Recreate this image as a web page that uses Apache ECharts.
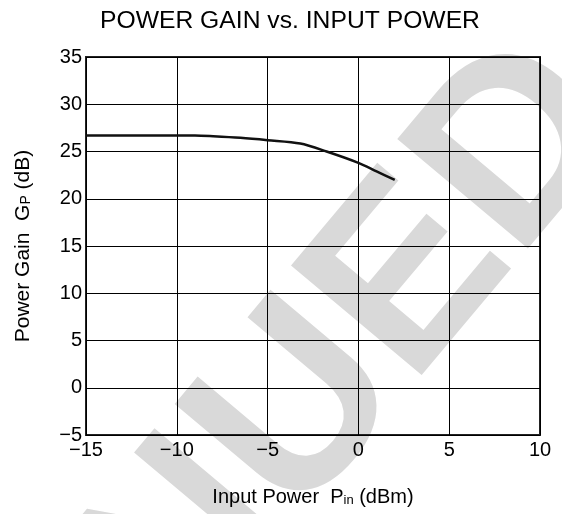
<!DOCTYPE html>
<html>
<head>
<meta charset="utf-8">
<script src="https://cdn.jsdelivr.net/npm/echarts@6/dist/echarts.min.js"></script>
<style>html,body{margin:0;padding:0;background:#fff}#c{width:562px;height:514px}</style>
</head>
<body>
<div id="c"></div>
<script>
const inputPower = [-15, -12, -9, -8, -6.5, -5, -3.2, -1.75, 0, 1, 2];
const powerGain = [26.7, 26.7, 26.7, 26.62, 26.45, 26.2, 25.85, 25.0, 23.8, 22.9, 22.0];
const xTicks = [-15, -10, -5, 0, 5, 10];
const yTicks = [-5, 0, 5, 10, 15, 20, 25, 30, 35];
const titleText = 'POWER GAIN vs. INPUT POWER';
const watermark = 'DISCONTINUED';

const FONT = '"Liberation Sans", Arial, Helvetica, sans-serif';
const fmt = v => String(v).replace('-', '\u2212');
const chart = echarts.init(document.getElementById('c'), null, {renderer: 'canvas'});
chart.setOption({
  backgroundColor: '#fff',
  animation: false,
  title: {
    text: titleText, left: 95, top: 4,
    textStyle: {fontFamily: FONT, fontSize: 24.7, fontWeight: 'normal', color: '#000'}
  },
  graphic: [{
    type: 'text', x: 580, y: 80, rotation: 50 * Math.PI / 180, z: -10, silent: true,
    style: {
      text: watermark, font: 'bold 248px ' + FONT, fill: '#d9d9d9',
      textAlign: 'right', textVerticalAlign: 'middle', align: 'right', verticalAlign: 'middle'
    }
  }],
  grid: {left: 86, right: 22, top: 57, bottom: 79, show: true, borderColor: '#222', borderWidth: 2, backgroundColor: 'transparent'},
  xAxis: {
    type: 'value', min: xTicks[0], max: xTicks[xTicks.length - 1], interval: 5,
    axisLine: {show: false}, axisTick: {show: false},
    splitLine: {show: true, lineStyle: {color: '#000', width: 1}},
    axisLabel: {formatter: fmt, fontFamily: FONT, fontSize: 20, color: '#000', margin: 5},
    name: '{n|Input Power  P}{s|in}{n| (dBm)}', nameLocation: 'middle', nameGap: 52,
    nameTextStyle: {fontFamily: FONT, color: '#000', rich: {
      n: {fontFamily: FONT, fontSize: 20, color: '#000'},
      s: {fontFamily: FONT, fontSize: 13, color: '#000', padding: [6, 0, 0, 0]}
    }}
  },
  yAxis: {
    type: 'value', min: yTicks[0], max: yTicks[yTicks.length - 1], interval: 5,
    axisLine: {show: false}, axisTick: {show: false},
    splitLine: {show: true, lineStyle: {color: '#000', width: 1}},
    axisLabel: {formatter: fmt, fontFamily: FONT, fontSize: 20, color: '#000', margin: 4},
    name: '{n|Power Gain  G}{s|P}{n| (dB)}', nameLocation: 'middle', nameGap: 52, nameRotate: 90,
    nameTextStyle: {fontFamily: FONT, color: '#000', rich: {
      n: {fontFamily: FONT, fontSize: 21, color: '#000'},
      s: {fontFamily: FONT, fontSize: 14, color: '#000', padding: [6, 0, 0, 0]}
    }}
  },
  series: [{
    type: 'line', data: inputPower.map((x, i) => [x, powerGain[i]]),
    smooth: 0.3, showSymbol: false, lineStyle: {color: '#111', width: 2.5}, z: 5
  }]
});
</script>
</body>
</html>
